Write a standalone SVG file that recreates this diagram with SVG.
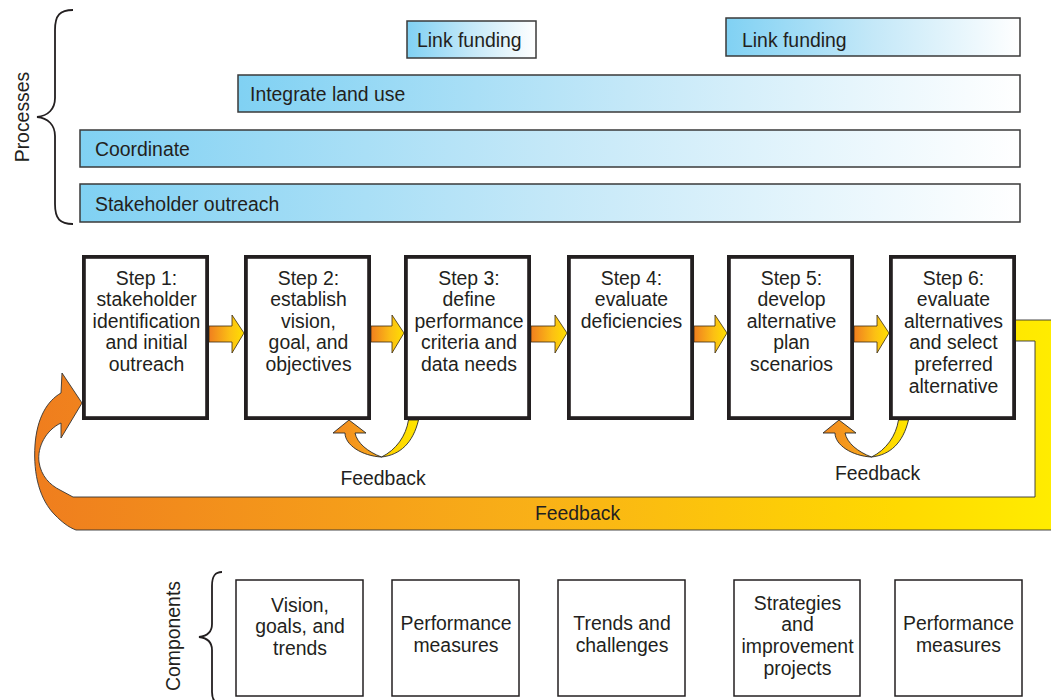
<svg xmlns="http://www.w3.org/2000/svg" width="1051" height="700" viewBox="0 0 1051 700">
<defs>
<style>
text{font-family:"Liberation Sans",Arial,Helvetica,sans-serif;font-size:19.4px;fill:#231f20}
.c{text-anchor:middle}
.bar{fill:url(#blue);stroke:#3a3a3a;stroke-width:1.5}
.step{fill:#fff;stroke:#231f20;stroke-width:3.8}
.comp{fill:#fff;stroke:#231f20;stroke-width:1.5}
.brace{fill:none;stroke:#231f20;stroke-width:1.8}
.arr{fill:url(#oy);stroke:#3a2a10;stroke-width:0.8;stroke-linejoin:miter}
.fo{fill:url(#fbo);stroke:#2a2a2a;stroke-width:0.9}
.fy{fill:url(#fby);stroke:#2a2a2a;stroke-width:0.9}
</style>
<linearGradient id="blue" x1="0" y1="0" x2="1" y2="0">
<stop offset="0" stop-color="#80d1f3"/>
<stop offset="0.5" stop-color="#c4e8f8"/>
<stop offset="1" stop-color="#ffffff"/>
</linearGradient>
<linearGradient id="oy" x1="0" y1="0" x2="1" y2="0">
<stop offset="0" stop-color="#f07f1f"/>
<stop offset="0.6" stop-color="#fcc014"/>
<stop offset="1" stop-color="#ffdf00"/>
</linearGradient>
<linearGradient id="fbo" x1="0" y1="0" x2="1" y2="0">
<stop offset="0" stop-color="#f28a1f"/>
<stop offset="1" stop-color="#f8a81b"/>
</linearGradient>
<linearGradient id="fby" x1="0" y1="0" x2="1" y2="0">
<stop offset="0" stop-color="#ffcd00"/>
<stop offset="1" stop-color="#ffe600"/>
</linearGradient>
<linearGradient id="loop" gradientUnits="userSpaceOnUse" x1="30" y1="0" x2="1051" y2="0">
<stop offset="0" stop-color="#ef7d1e"/>
<stop offset="0.5" stop-color="#f9b117"/>
<stop offset="0.85" stop-color="#ffd900"/>
<stop offset="1" stop-color="#ffec00"/>
</linearGradient>
</defs>
<rect width="1051" height="700" fill="#fff"/>

<g id="processes-label">
<path class="brace" d="M73,10 C60,10 55,15 55,30 L55,98 C55,109 48,116 37,117 C48,118 55,125 55,136 L55,204 C55,219 60,224 73,224"/>
<text class="c" transform="translate(28.5,117) rotate(-90)">Processes</text>
</g>

<g id="link-funding-1">
<rect class="bar" x="407" y="21" width="129" height="37"/>
<text x="417" y="47">Link funding</text>
</g>
<g id="link-funding-2">
<rect class="bar" x="726" y="18" width="294" height="38"/>
<text x="742" y="47">Link funding</text>
</g>
<g id="integrate-land-use">
<rect class="bar" x="238" y="75" width="782" height="37"/>
<text x="250" y="101">Integrate land use</text>
</g>
<g id="coordinate">
<rect class="bar" x="80" y="130" width="940" height="37"/>
<text x="95" y="156">Coordinate</text>
</g>
<g id="stakeholder-outreach">
<rect class="bar" x="80" y="184" width="940" height="38"/>
<text x="95" y="210.5">Stakeholder outreach</text>
</g>

<g id="connectors">
<path id="feedback-loop" fill="url(#loop)" stroke="#333" stroke-width="0.9" d="M82,403 L62,373 L61,393 C47,401 37,418 35,445 C33,475 40,500 55,515 C62,522 68,527 76,530 L1060,530 L1060,320 L1015,320 L1015,341 L1035,341 L1035,497 L73,497 L60,490 C50,485 41,476 39,462 C37,447 46,430 61,423 L61,438 Z"/>
<text class="c" x="577.5" y="520">Feedback</text>

<path class="arr" d="M209,326 L232,326 L232,315 L244,333 L232,353 L232,342 L209,342 Z"/>
<path class="arr" d="M371,326 L392,326 L392,315 L404,333 L392,353 L392,342 L371,342 Z"/>
<path class="arr" d="M531,326 L555,326 L555,315 L567,333 L555,353 L555,342 L531,342 Z"/>
<path class="arr" d="M694,326 L715,326 L715,315 L727,333 L715,353 L715,342 L694,342 Z"/>
<path class="arr" d="M854,326 L877,326 L877,315 L889,333 L877,353 L877,342 L854,342 Z"/>

<g id="feedback-2-3">
<path class="fy" d="M381.5,457 C400,455 413,443 418.5,420 L408.5,420 C406,436 396,450 381.5,457 Z"/>
<path class="fo" d="M349,420 L333,433 L345,433 C345,445 362,456 381.5,457 C368,452 357,443 355,433 L366,433 Z"/>
<text class="c" x="383" y="485">Feedback</text>
</g>
<g id="feedback-5-6">
<path class="fy" d="M871.5,457 C890,455 903,443 908.5,420 L898.5,420 C896,436 886,450 871.5,457 Z"/>
<path class="fo" d="M839,420 L823,433 L835,433 C835,445 852,456 871.5,457 C858,452 847,443 845,433 L856,433 Z"/>
<text class="c" x="877.5" y="480">Feedback</text>
</g>
</g>

<g id="step-1">
<rect class="step" x="83.9" y="256.9" width="123.2" height="161.2"/>
<text class="c"><tspan x="146.5" y="284.5">Step 1:</tspan><tspan x="146.5" y="306.1">stakeholder</tspan><tspan x="146.5" y="327.7">identification</tspan><tspan x="146.5" y="349.3">and initial</tspan><tspan x="146.5" y="370.9">outreach</tspan></text>
</g>
<g id="step-2">
<rect class="step" x="245.9" y="256.9" width="123.2" height="161.2"/>
<text class="c"><tspan x="308.5" y="284.5">Step 2:</tspan><tspan x="308.5" y="306.1">establish</tspan><tspan x="308.5" y="327.7">vision,</tspan><tspan x="308.5" y="349.3">goal, and</tspan><tspan x="308.5" y="370.9">objectives</tspan></text>
</g>
<g id="step-3">
<rect class="step" x="405.9" y="256.9" width="123.2" height="161.2"/>
<text class="c"><tspan x="469" y="284.5">Step 3:</tspan><tspan x="469" y="306.1">define</tspan><tspan x="469" y="327.7">performance</tspan><tspan x="469" y="349.3">criteria and</tspan><tspan x="469" y="370.9">data needs</tspan></text>
</g>
<g id="step-4">
<rect class="step" x="568.9" y="256.9" width="123.2" height="161.2"/>
<text class="c"><tspan x="631.5" y="284.5">Step 4:</tspan><tspan x="631.5" y="306.1">evaluate</tspan><tspan x="631.5" y="327.7">deficiencies</tspan></text>
</g>
<g id="step-5">
<rect class="step" x="728.9" y="256.9" width="123.2" height="161.2"/>
<text class="c"><tspan x="791.5" y="284.5">Step 5:</tspan><tspan x="791.5" y="306.1">develop</tspan><tspan x="791.5" y="327.7">alternative</tspan><tspan x="791.5" y="349.3">plan</tspan><tspan x="791.5" y="370.9">scenarios</tspan></text>
</g>
<g id="step-6">
<rect class="step" x="890.9" y="256.9" width="123.2" height="161.2"/>
<text class="c"><tspan x="953.5" y="284.5">Step 6:</tspan><tspan x="953.5" y="306.1">evaluate</tspan><tspan x="953.5" y="327.7">alternatives</tspan><tspan x="953.5" y="349.3">and select</tspan><tspan x="953.5" y="370.9">preferred</tspan><tspan x="953.5" y="392.5">alternative</tspan></text>
</g>

<g id="components-label">
<path class="brace" d="M222,572 C215,572 212,576 212,586 L212,624 C212,632 207,636 199,637 C207,638 212,642 212,650 L212,692 C212,700 215,704 222,704"/>
<text class="c" transform="translate(179.5,636) rotate(-90)">Components</text>
</g>

<g id="comp-1">
<rect class="comp" x="236" y="580" width="127" height="116"/>
<text class="c"><tspan x="300" y="611.5">Vision,</tspan><tspan x="300" y="633.3">goals, and</tspan><tspan x="300" y="655">trends</tspan></text>
</g>
<g id="comp-2">
<rect class="comp" x="392" y="580" width="127" height="116"/>
<text class="c"><tspan x="456" y="629.5">Performance</tspan><tspan x="456" y="651.5">measures</tspan></text>
</g>
<g id="comp-3">
<rect class="comp" x="558" y="580" width="127" height="116"/>
<text class="c"><tspan x="622" y="629.5">Trends and</tspan><tspan x="622" y="651.5">challenges</tspan></text>
</g>
<g id="comp-4">
<rect class="comp" x="734" y="580" width="126" height="116"/>
<text class="c"><tspan x="797.5" y="609.5">Strategies</tspan><tspan x="797.5" y="631.3">and</tspan><tspan x="797.5" y="653.1">improvement</tspan><tspan x="797.5" y="674.9">projects</tspan></text>
</g>
<g id="comp-5">
<rect class="comp" x="895" y="580" width="127" height="116"/>
<text class="c"><tspan x="958.5" y="629.5">Performance</tspan><tspan x="958.5" y="651.5">measures</tspan></text>
</g>
</svg>
